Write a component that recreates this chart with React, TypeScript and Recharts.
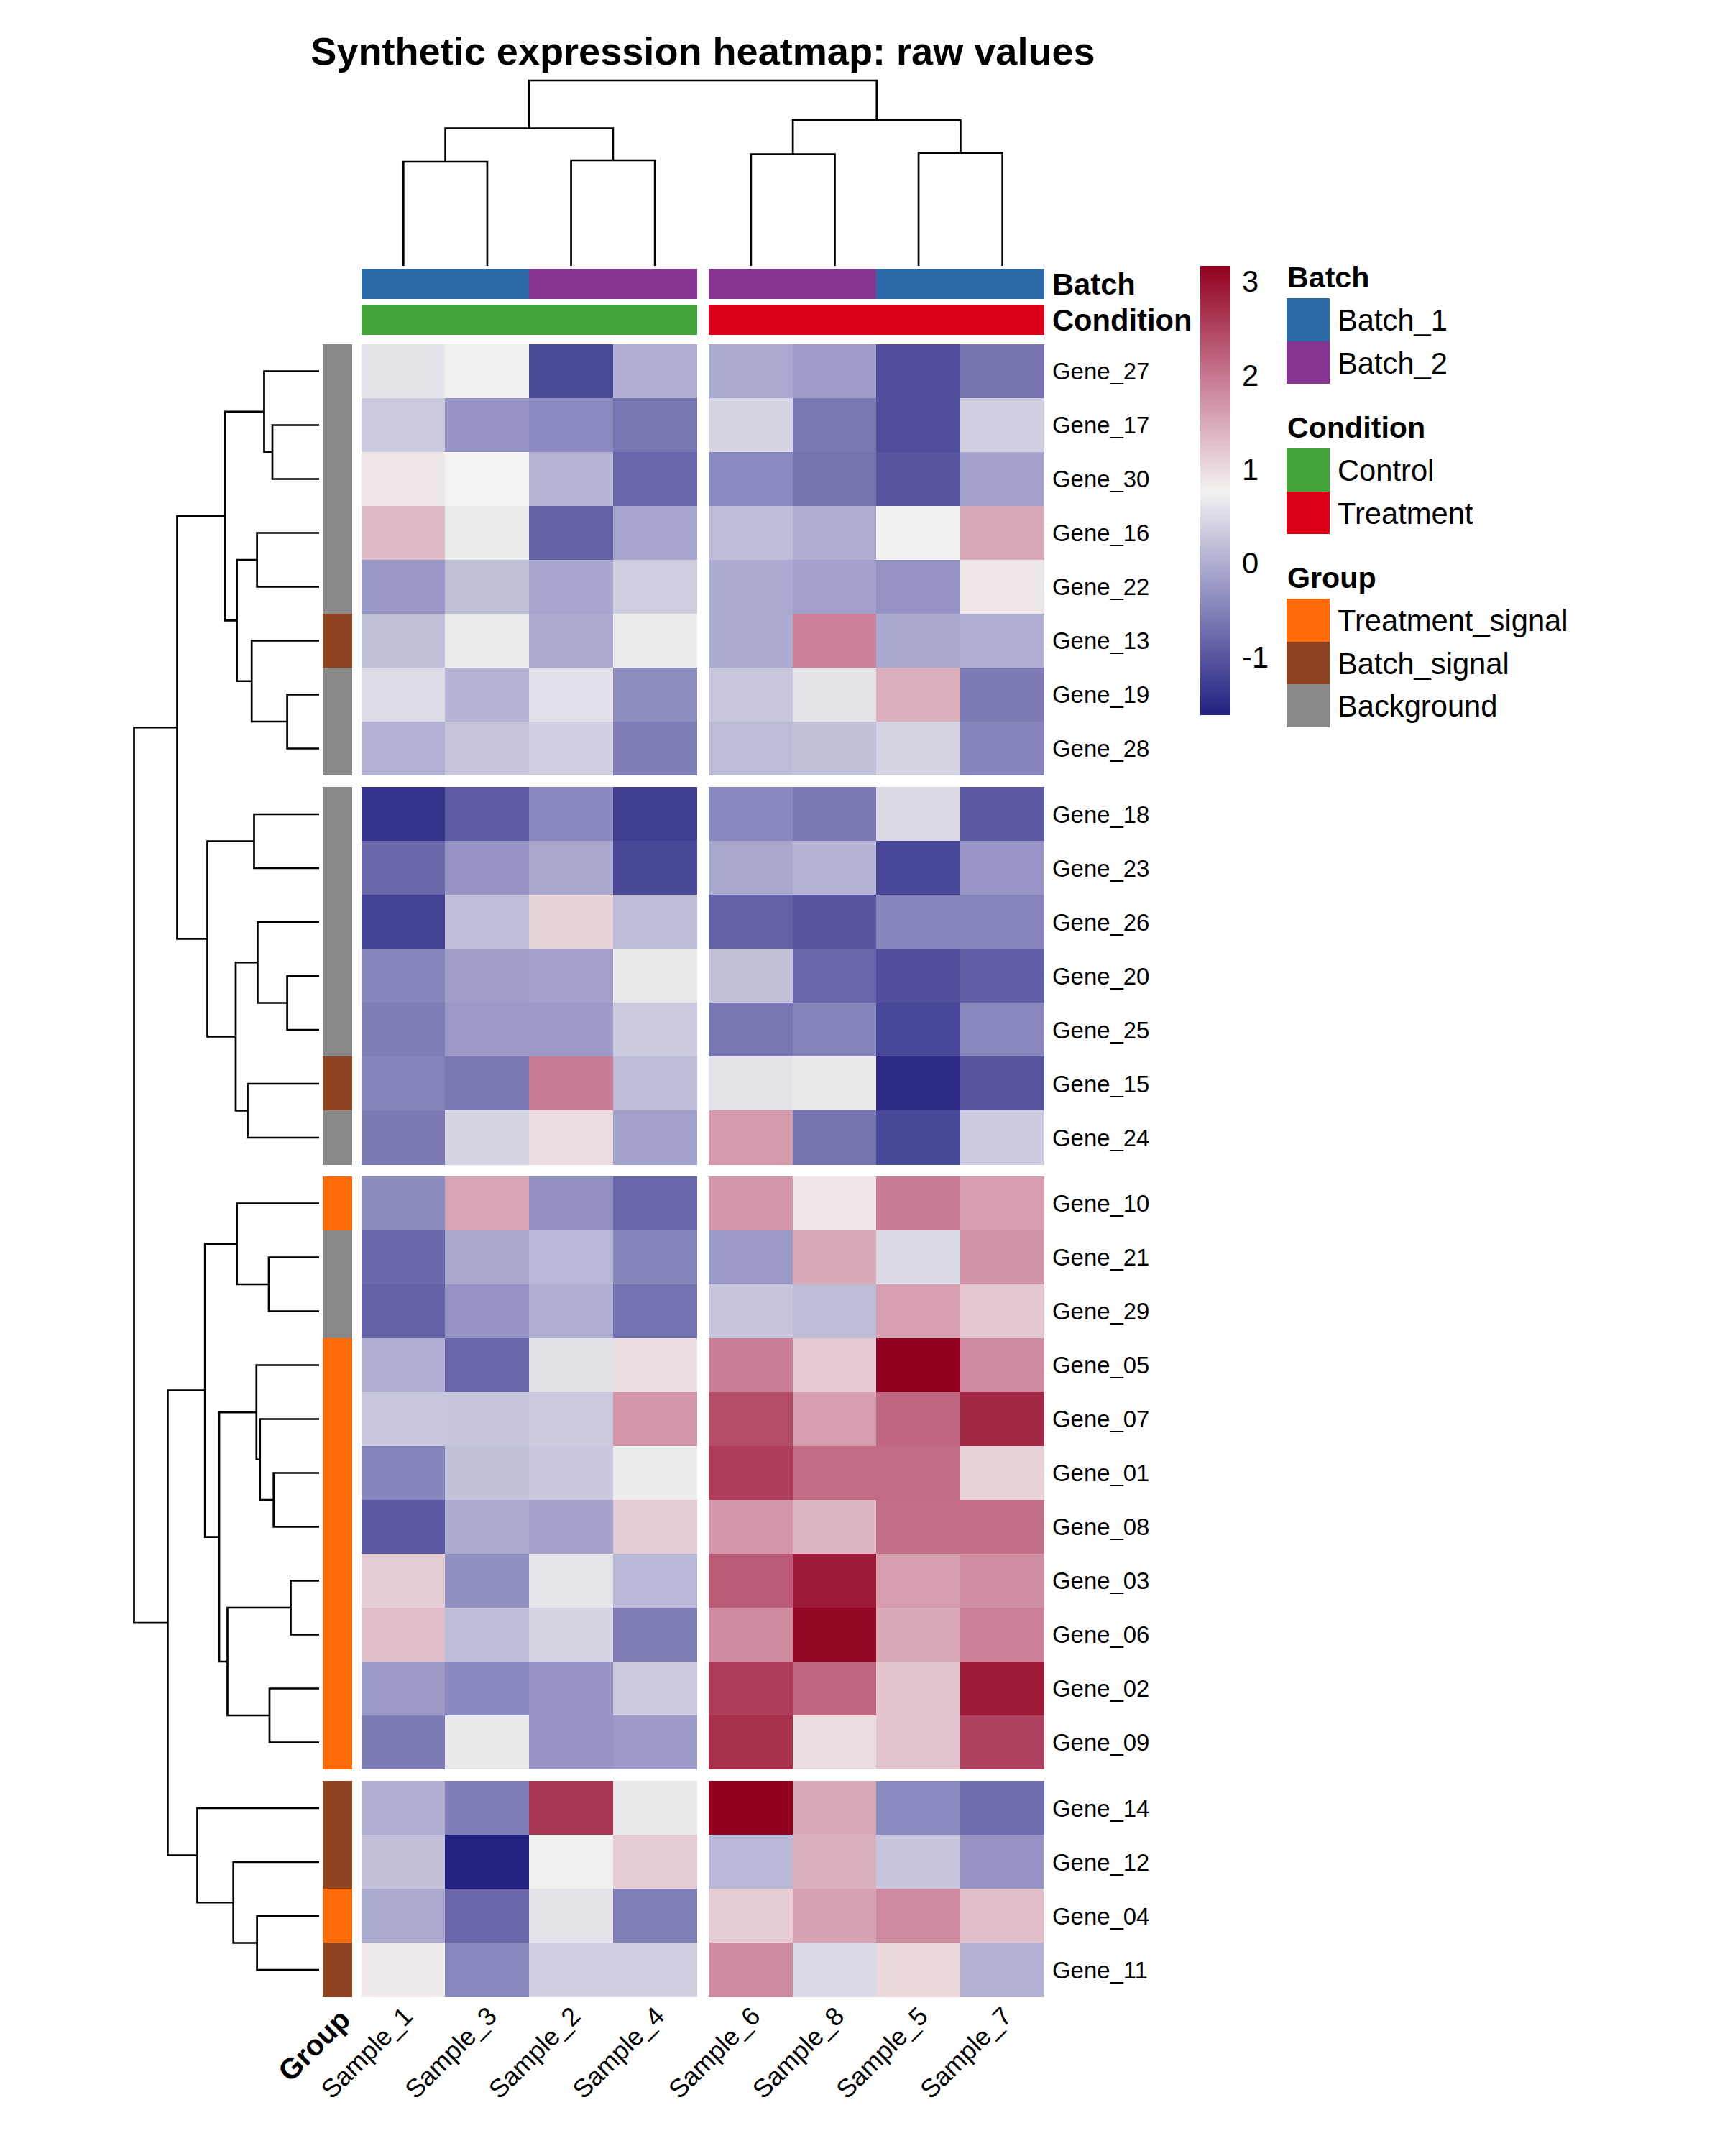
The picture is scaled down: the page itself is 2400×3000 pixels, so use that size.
import React from "react";
import { Bar, BarChart, Scatter, ScatterChart, XAxis, YAxis } from "recharts";

const FONT = "'Liberation Sans', Arial, sans-serif";
const PAGE_W = 2400;
const PAGE_H = 3000;

const sampleLabels = ["Sample_1", "Sample_3", "Sample_2", "Sample_4", "Sample_6", "Sample_8", "Sample_5", "Sample_7"];
const geneLabels = [
  "Gene_27", "Gene_17", "Gene_30", "Gene_16", "Gene_22", "Gene_13", "Gene_19", "Gene_28",
  "Gene_18", "Gene_23", "Gene_26", "Gene_20", "Gene_25", "Gene_15", "Gene_24",
  "Gene_10", "Gene_21", "Gene_29", "Gene_05", "Gene_07", "Gene_01", "Gene_08", "Gene_03", "Gene_06", "Gene_02", "Gene_09",
  "Gene_14", "Gene_12", "Gene_04", "Gene_11",
];

// one row per gene, columns in the order of sampleLabels
const heatValues = [
  [0.62, 0.76, -1.13, 0.03, -0.04, -0.18, -1.08, -0.64],
  [0.33, -0.28, -0.39, -0.63, 0.45, -0.58, -1.08, 0.39],
  [0.9, 0.79, 0.09, -0.8, -0.4, -0.65, -1.0, -0.13],
  [1.33, 0.72, -0.85, -0.09, 0.17, -0.02, 0.78, 1.5],
  [-0.24, 0.22, -0.09, 0.39, -0.03, -0.13, -0.3, 0.9],
  [0.22, 0.72, -0.03, 0.73, -0.03, 1.9, -0.05, 0.02],
  [0.53, 0.08, 0.58, -0.36, 0.3, 0.62, 1.47, -0.56],
  [0.05, 0.27, 0.39, -0.53, 0.17, 0.23, 0.45, -0.48],
  [-1.39, -0.93, -0.41, -1.25, -0.42, -0.58, 0.52, -0.94],
  [-0.79, -0.3, -0.07, -1.14, -0.07, 0.08, -1.16, -0.27],
  [-1.22, 0.2, 1.1, 0.17, -0.85, -1.0, -0.44, -0.44],
  [-0.43, -0.16, -0.13, 0.67, 0.23, -0.81, -1.07, -0.9],
  [-0.53, -0.22, -0.22, 0.33, -0.61, -0.46, -1.16, -0.42],
  [-0.48, -0.6, 1.97, 0.17, 0.62, 0.67, -1.48, -1.0],
  [-0.58, 0.45, 1.0, -0.13, 1.65, -0.64, -1.14, 0.33],
  [-0.38, 1.55, -0.32, -0.8, 1.69, 0.9, 1.97, 1.63],
  [-0.79, -0.07, 0.12, -0.47, -0.22, 1.5, 0.52, 1.72],
  [-0.85, -0.28, 0.02, -0.67, 0.28, 0.17, 1.6, 1.22],
  [0.02, -0.79, 0.59, 0.99, 1.93, 1.18, 3.18, 1.82],
  [0.3, 0.29, 0.33, 1.7, 2.43, 1.63, 2.16, 2.8],
  [-0.46, 0.23, 0.3, 0.71, 2.58, 2.13, 2.13, 1.1],
  [-0.95, -0.03, -0.13, 1.17, 1.7, 1.4, 2.1, 2.1],
  [1.17, -0.33, 0.63, 0.11, 2.28, 2.92, 1.63, 1.78],
  [1.3, 0.17, 0.45, -0.53, 1.82, 3.12, 1.5, 1.9],
  [-0.22, -0.41, -0.28, 0.33, 2.58, 2.17, 1.23, 2.92],
  [-0.56, 0.67, -0.28, -0.23, 2.7, 1.0, 1.23, 2.54],
  [0.03, -0.54, 2.65, 0.67, 3.18, 1.5, -0.39, -0.72],
  [0.24, -1.59, 0.76, 1.17, 0.11, 1.47, 0.29, -0.28],
  [-0.04, -0.78, 0.62, -0.52, 1.17, 1.58, 1.82, 1.3],
  [0.85, -0.42, 0.39, 0.39, 1.82, 0.5, 1.05, 0.06],
];

const batchNames = ["Batch_1", "Batch_2"];
const batchColors = ["#2C6AA8", "#863591"];
const conditionNames = ["Control", "Treatment"];
const conditionColors = ["#41A338", "#DB0018"];
const groupNames = ["Treatment_signal", "Batch_signal", "Background"];
const groupColors = ["#FF6B07", "#8F421F", "#888888"];

const sampleBatch = [0, 0, 1, 1, 1, 1, 0, 0];
const sampleCondition = [0, 0, 0, 0, 1, 1, 1, 1];
const geneGroup = [2, 2, 2, 2, 2, 1, 2, 2, 2, 2, 2, 2, 2, 1, 2, 0, 2, 2, 0, 0, 0, 0, 0, 0, 0, 0, 1, 1, 0, 1];

const colorbarTicks = [-1, 0, 1, 2, 3];
const VALUE_MIN = -1.605;
const VALUE_MAX = 3.18;

// colour ramp, bottom to top
const rampStops = [
  { at: 0, rgb: [34, 32, 128] },
  { at: 0.3, rgb: [159, 158, 202] },
  { at: 0.5, rgb: [243, 242, 240] },
  { at: 0.75, rgb: [200, 122, 146] },
  { at: 1, rgb: [145, 0, 31] },
];

// dendrograms: [child, child, merge height], a number is a leaf index
type TreeNode = number | [TreeNode, TreeNode, number];

const colTree: TreeNode = [[[0, 1, 145], [2, 3, 147], 191.4], [[4, 5, 155.3], [6, 7, 157.3], 202.7], 258];

const rowCluster1: TreeNode = [
  [0, [1, 2, 65], 76.5],
  [[3, 4, 86.4], [5, [6, 7, 44.4], 93.8], 114.4],
  130.8,
];
const rowCluster2: TreeNode = [
  [8, 9, 90.5],
  [[10, [11, 12, 44.4], 85.6], [13, 14, 99.5], 116],
  155.5,
];
const rowCluster3: TreeNode = [
  [15, [16, 17, 70], 114.4],
  [[18, [19, [20, 21, 63.3], 82.3], 87.2], [[22, 23, 39.5], [24, 25, 69], 127.5], 139],
  158.8,
];
const rowCluster4: TreeNode = [26, [27, [28, 29, 86.4], 119.3], 169.5];
const rowTree: TreeNode = [[rowCluster1, rowCluster2, 197.5], [rowCluster3, rowCluster4, 210.6], 257.5];

const COL_GAP = 0.146;
const ROW_GAP = 0.22;
const COL_PX = 116.62;
const ROW_PX = 75;

const colCenter = (i: number) => i + 0.5 + (i >= 4 ? COL_GAP : 0);
const rowCenter = (i: number) => i + 0.5 + ((i >= 8 ? 1 : 0) + (i >= 15 ? 1 : 0) + (i >= 26 ? 1 : 0)) * ROW_GAP;

const GROUP_X = -0.287;
const BATCH_Y = -1.12;
const CONDITION_Y = -0.453;
const X_TOTAL = 8 + COL_GAP;
const Y_TOTAL = 30 + 3 * ROW_GAP;

const rgbText = (c: number[]) => `rgb(${c.map((n) => Math.round(n)).join(",")})`;

function valueColor(v: number) {
  const t = (v - VALUE_MIN) / (VALUE_MAX - VALUE_MIN);
  const k = Math.max(1, rampStops.findIndex((s) => s.at >= t));
  const a = rampStops[k - 1];
  const b = rampStops[k];
  const f = (t - a.at) / (b.at - a.at);
  return rgbText(a.rgb.map((c, i) => c + (b.rgb[i] - c) * f));
}

type Pt = { pos: number; h: number };

function collectLinks(node: TreeNode, center: (i: number) => number, links: Pt[][]): Pt {
  if (typeof node === "number") return { pos: center(node), h: 0 };
  const a = collectLinks(node[0], center, links);
  const b = collectLinks(node[1], center, links);
  const h = node[2];
  links.push([a, { pos: a.pos, h }, { pos: b.pos, h }, b]);
  return { pos: (a.pos + b.pos) / 2, h };
}

const colLinks: Pt[][] = [];
collectLinks(colTree, colCenter, colLinks);
const rowLinks: Pt[][] = [];
collectLinks(rowTree, rowCenter, rowLinks);

const heatCells = heatValues.flatMap((row, r) =>
  row.map((v, c) => ({ x: colCenter(c), y: rowCenter(r), fill: valueColor(v), w: COL_PX + 0.6, h: ROW_PX + 0.6 })),
);
const groupCells = geneGroup.map((g, r) => ({ x: GROUP_X, y: rowCenter(r), fill: groupColors[g], w: 41, h: ROW_PX + 0.6 }));
const batchCells = sampleBatch.map((b, c) => ({ x: colCenter(c), y: BATCH_Y, fill: batchColors[b], w: COL_PX + 0.6, h: 42 }));
const conditionCells = sampleCondition.map((b, c) => ({ x: colCenter(c), y: CONDITION_Y, fill: conditionColors[b], w: COL_PX + 0.6, h: 42 }));

const pageMargin = (left: number, top: number, right: number, bottom: number) => ({
  left,
  top,
  right: PAGE_W - right,
  bottom: PAGE_H - bottom,
});

const layer: React.CSSProperties = { position: "absolute", left: 0, top: 0 };

function CellShape(props: any) {
  const { cx, cy, payload } = props;
  return (
    <rect
      x={cx - payload.w / 2}
      y={cy - payload.h / 2}
      width={payload.w}
      height={payload.h}
      fill={payload.fill}
      shapeRendering="crispEdges"
    />
  );
}

const NoDot = () => <g />;

function RowTick(props: any) {
  const { x, y, payload } = props;
  const isAnnotation = payload.value < 0;
  const label = payload.value === BATCH_Y ? "Batch" : payload.value === CONDITION_Y ? "Condition" : geneLabels[rowTickValues.indexOf(payload.value) - 2];
  return (
    <text
      x={x}
      y={y}
      dy="0.36em"
      fontFamily={FONT}
      fontSize={isAnnotation ? 41.7 : 32.9}
      fontWeight={isAnnotation ? "bold" : "normal"}
      fill="#000"
      textAnchor="start"
    >
      {label}
    </text>
  );
}

function ColTick(props: any) {
  const { x, y, payload } = props;
  const isGroup = payload.value === GROUP_X;
  const label = isGroup ? "Group" : sampleLabels[colTickValues.indexOf(payload.value) - 1];
  return (
    <text
      transform={`translate(${x + (isGroup ? 10 : 6)},${y - (isGroup ? 0 : 4)}) rotate(-45)`}
      dy="0.36em"
      fontFamily={FONT}
      fontSize={isGroup ? 40.5 : 36}
      fontWeight={isGroup ? "bold" : "normal"}
      fill="#000"
      textAnchor="end"
    >
      {label}
    </text>
  );
}

const rowTickValues = [BATCH_Y, CONDITION_Y, ...geneLabels.map((_, i) => rowCenter(i))];
const colTickValues = [GROUP_X, ...sampleLabels.map((_, i) => colCenter(i))];

function HeatmapChart() {
  return (
    <ScatterChart width={PAGE_W} height={PAGE_H} margin={pageMargin(449, 374, 1453 + 300, 2778.5 + 60)} style={layer}>
      <XAxis
        type="number"
        dataKey="x"
        domain={[-0.463, X_TOTAL]}
        ticks={colTickValues}
        interval={0}
        tick={<ColTick />}
        tickLine={false}
        axisLine={false}
        tickMargin={18}
        height={60}
      />
      <YAxis
        type="number"
        dataKey="y"
        orientation="right"
        reversed
        domain={[-1.4, Y_TOTAL]}
        ticks={rowTickValues}
        interval={0}
        tick={<RowTick />}
        tickLine={false}
        axisLine={false}
        tickMargin={5}
        width={300}
      />
      <Scatter data={heatCells} shape={CellShape} isAnimationActive={false} />
      <Scatter data={groupCells} shape={CellShape} isAnimationActive={false} />
      <Scatter data={batchCells} shape={CellShape} isAnimationActive={false} />
      <Scatter data={conditionCells} shape={CellShape} isAnimationActive={false} />
    </ScatterChart>
  );
}

function ColDendrogram() {
  return (
    <ScatterChart width={PAGE_W} height={PAGE_H} margin={pageMargin(503, 112, 1453, 370)} style={layer}>
      <XAxis type="number" dataKey="x" domain={[0, X_TOTAL]} hide />
      <YAxis type="number" dataKey="y" domain={[0, 258]} hide />
      {colLinks.map((link, i) => (
        <Scatter
          key={i}
          data={link.map((p) => ({ x: p.pos, y: p.h }))}
          line={{ stroke: "#000", strokeWidth: 2.7 }}
          shape={NoDot}
          isAnimationActive={false}
        />
      ))}
    </ScatterChart>
  );
}

function RowDendrogram() {
  return (
    <ScatterChart width={PAGE_W} height={PAGE_H} margin={pageMargin(186.5, 479, 444, 2778.5)} style={layer}>
      <XAxis type="number" dataKey="x" reversed domain={[0, 257.5]} hide />
      <YAxis type="number" dataKey="y" reversed domain={[0, Y_TOTAL]} hide />
      {rowLinks.map((link, i) => (
        <Scatter
          key={i}
          data={link.map((p) => ({ x: p.h, y: p.pos }))}
          line={{ stroke: "#000", strokeWidth: 2.7 }}
          shape={NoDot}
          isAnimationActive={false}
        />
      ))}
    </ScatterChart>
  );
}

function Colorbar() {
  const data = [{ name: "scale", range: [VALUE_MIN, VALUE_MAX] }];
  return (
    <BarChart
      width={PAGE_W}
      height={PAGE_H}
      data={data}
      barCategoryGap={0}
      margin={pageMargin(1670, 370, 1712 + 100, 995)}
      style={layer}
    >
      <defs>
        <linearGradient id="heatScale" x1="0" y1="1" x2="0" y2="0">
          {rampStops.map((s) => (
            <stop key={s.at} offset={`${s.at * 100}%`} stopColor={rgbText(s.rgb)} />
          ))}
        </linearGradient>
      </defs>
      <XAxis dataKey="name" hide />
      <YAxis
        orientation="right"
        type="number"
        domain={[VALUE_MIN, VALUE_MAX]}
        ticks={colorbarTicks}
        interval={0}
        tickLine={false}
        axisLine={false}
        tickMargin={10}
        width={100}
        tick={{ fill: "#000", fontSize: 41.7, fontFamily: FONT, textAnchor: "start", dy: -2 }}
      />
      <Bar dataKey="range" fill="url(#heatScale)" isAnimationActive={false} />
    </BarChart>
  );
}

function LegendBlock({ title, titleTop, names, colors, top }: { title: string; titleTop: number; names: string[]; colors: string[]; top: number }) {
  return (
    <>
      <div style={{ position: "absolute", left: 1791, top: titleTop, fontSize: 41.2, lineHeight: "48px", fontWeight: "bold", fontFamily: FONT, color: "#000" }}>
        {title}
      </div>
      {names.map((name, i) => (
        <React.Fragment key={name}>
          <div style={{ position: "absolute", left: 1790, top: top + i * 59.5, width: 60, height: 59.5, background: colors[i] }} />
          <div style={{ position: "absolute", left: 1861, top: top + 1 + i * 59.5, lineHeight: "59.5px", fontSize: 41.7, fontFamily: FONT, color: "#000", whiteSpace: "nowrap" }}>
            {name}
          </div>
        </React.Fragment>
      ))}
    </>
  );
}

export default function App() {
  return (
    <div style={{ position: "absolute", left: 0, top: 0, width: PAGE_W, height: PAGE_H, background: "#fff", overflow: "hidden" }}>
      <HeatmapChart />
      <ColDendrogram />
      <RowDendrogram />
      <Colorbar />
      <div style={{ position: "absolute", left: 0, width: 1956, top: 41, textAlign: "center", fontFamily: FONT, fontWeight: "bold", fontSize: 54.1, lineHeight: "60px", color: "#000", whiteSpace: "nowrap" }}>
        Synthetic expression heatmap: raw values
      </div>
      <LegendBlock title="Batch" titleTop={362} names={batchNames} colors={batchColors} top={415} />
      <LegendBlock title="Condition" titleTop={571} names={conditionNames} colors={conditionColors} top={624} />
      <LegendBlock title="Group" titleTop={780} names={groupNames} colors={groupColors} top={833} />
    </div>
  );
}
